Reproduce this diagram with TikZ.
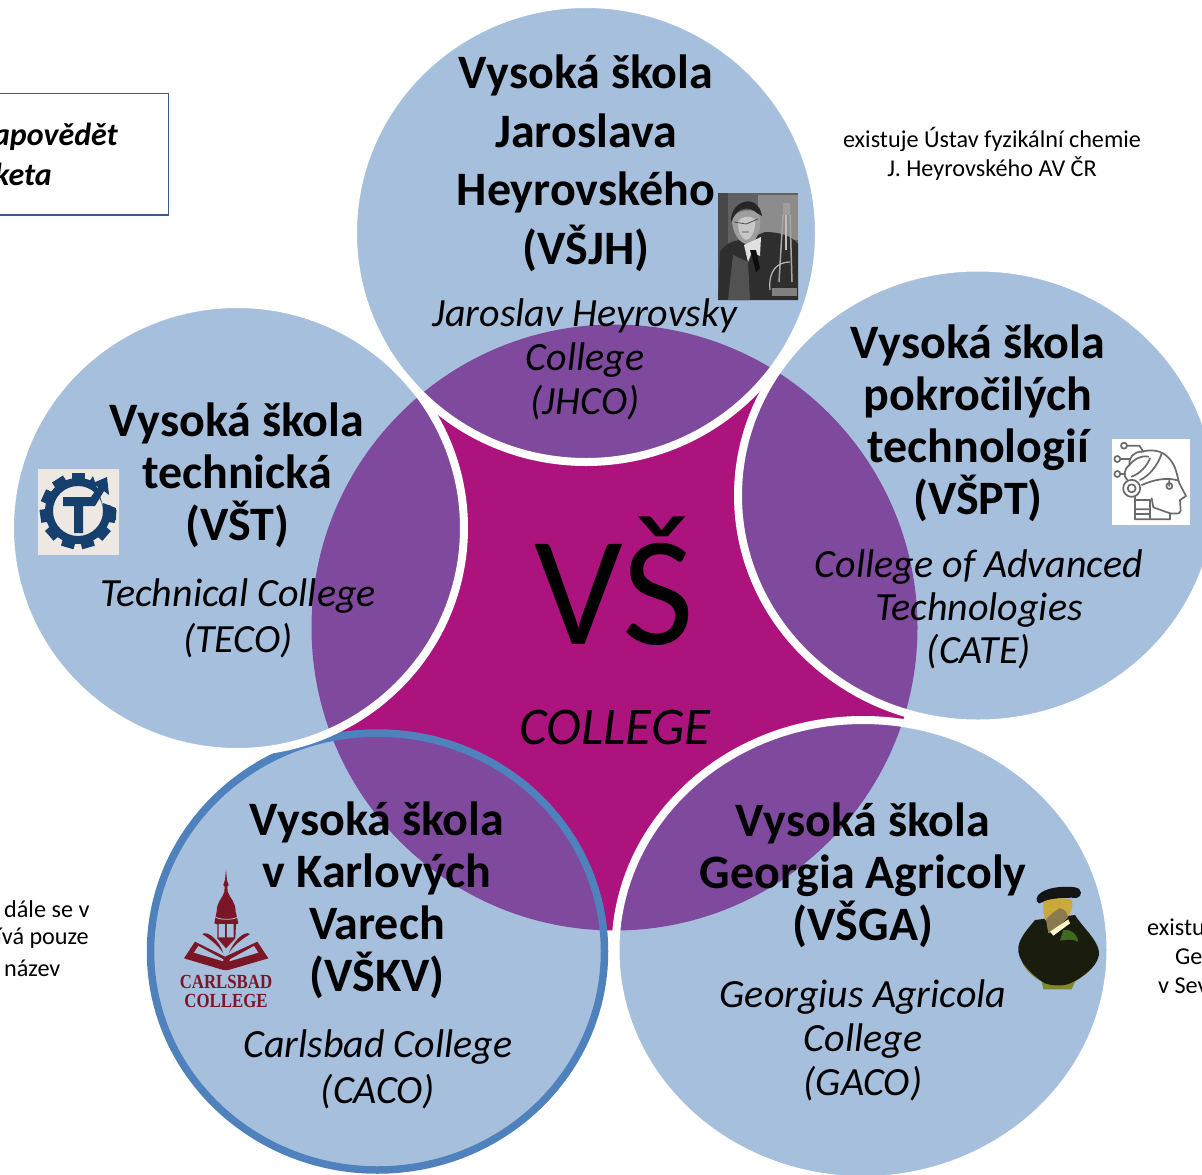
\documentclass[tikz,border=0pt]{standalone}
\usepackage{fontspec}
\setmainfont{Carlito}
\newfontfamily\logofont{Liberation Serif}
\definecolor{satblue}{HTML}{A6BFDD}
\definecolor{overlapc}{HTML}{7F4A9E}
\definecolor{corec}{HTML}{AD137D}
\definecolor{ringblue}{HTML}{4F81BD}
\definecolor{boxline}{HTML}{385D8A}
\definecolor{gearnavy}{HTML}{173F6E}
\definecolor{gearbg}{HTML}{EDE9E2}
\definecolor{logored}{HTML}{7B1626}
\definecolor{iconline}{HTML}{6A6A6A}
\definecolor{furdark}{HTML}{1A1D0E}
\definecolor{furgreen}{HTML}{3F6B20}
\definecolor{furedge}{HTML}{7F8A2A}
\definecolor{facey}{HTML}{C9A93C}
\definecolor{beardc}{HTML}{8A7A50}
\tikzset{
  headtext/.style={font=\fontsize{48}{52}\selectfont\bfseries,align=center,inner sep=0pt,text=black},
  subtext/.style={font=\fontsize{40}{44}\selectfont\itshape,align=center,inner sep=0pt,text=black},
  notetext/.style={font=\fontsize{24.2}{29}\selectfont,align=center,inner sep=0pt,text=black},
  boxtext/.style={font=\fontsize{32}{40}\selectfont\bfseries\itshape,anchor=east,inner sep=0pt,text=black},
  whitering/.style={draw=white,line width=8pt},
  iconstroke/.style={draw=iconline,line width=1.7pt,line cap=round,line join=round},
}
\def\coreshape{(614.5,627.5) circle (303pt)}
\begin{document}
\begin{tikzpicture}[x=1pt,y=-1pt]
\useasboundingbox (0,0) rectangle (1202,1175);
\fill[white] (0,0) rectangle (1202,1175);
% core
\fill[corec] \coreshape;
% satellites
\fill[satblue] (586,233) ellipse (233pt and 229pt);
\fill[satblue] (237,528) ellipse (227pt and 224pt);
\fill[satblue] (978,495.5) ellipse (240pt and 228pt);
\fill[satblue] (377.5,951.5) ellipse (227pt and 218.5pt);
\fill[satblue] (863,950) ellipse (247.5pt and 230pt);
% overlaps
\begin{scope}\clip \coreshape;
\fill[overlapc] (586,233) ellipse (233pt and 229pt);
\fill[overlapc] (237,528) ellipse (227pt and 224pt);
\fill[overlapc] (978,495.5) ellipse (240pt and 228pt);
\fill[overlapc] (377.5,951.5) ellipse (227pt and 218.5pt);
\fill[overlapc] (863,950) ellipse (247.5pt and 230pt);
\end{scope}
% rings
\draw[draw=ringblue,line width=7.5pt] (377.5,951.5) ellipse (227pt and 218.5pt);
\draw[whitering] (586,233) ellipse (233pt and 229pt);
\draw[whitering] (237,528) ellipse (227pt and 224pt);
\draw[whitering] (978,495.5) ellipse (240pt and 228pt);
\draw[whitering] (863,950) ellipse (247.5pt and 230pt);

% top-left box
\draw[boxline,line width=1.2pt] (-10,93.5) -- (168.7,93.5) -- (168.7,215) -- (-10,215);
\node[boxtext] (boxa) at (118,136.5) {apovědět};
\node[boxtext] (boxb) at (52,174.5) {keta};

% notes
\node[notetext] (noteheyr) at (992,154) {existuje Ústav fyzikální chemie\\J. Heyrovského AV ČR};
\node[notetext,anchor=west] (notela) at (4,909.5) {dále se v};
\node[notetext,anchor=east] (notelb) at (89,938.5) {ívá pouze};
\node[notetext,anchor=west] (notelc) at (4,968) {název};
\node[notetext,anchor=west] (notera) at (1147,927.5) {existu};
\node[notetext,anchor=west] (noterb) at (1175,956.5) {Ge};
\node[notetext,anchor=west] (noterc) at (1158,985.5) {v Sev};

% main texts
\node[font=\fontsize{156}{156}\selectfont,inner sep=0pt] (vs) at (614,581) {VŠ};
\node[font=\fontsize{53}{56}\selectfont\itshape,inner sep=0pt] (coll) at (615,727) {COLLEGE};

\node[headtext,font=\fontsize{48}{58.5}\selectfont\bfseries] (t1) at (586,163.5) {Vysoká škola\\Jaroslava\\Heyrovského\\(VŠJH)};
\node[subtext] (s1) at (585,359) {Jaroslav Heyrovsky\\College\\(JHCO)};
\node[headtext] (t2) at (237,475.5) {Vysoká škola\\technická\\(VŠT)};
\node[subtext,font=\fontsize{40}{46}\selectfont\itshape] (s2) at (238,618) {Technical College\\(TECO)};
\node[headtext] (t3) at (978,423) {Vysoká škola\\pokročilých\\technologií\\(VŠPT)};
\node[subtext,font=\fontsize{40}{43}\selectfont\itshape] (s3) at (979,609) {College of Advanced\\Technologies\\(CATE)};
\node[headtext] (t4) at (377,900) {Vysoká škola\\v Karlových\\Varech\\(VŠKV)};
\node[subtext,font=\fontsize{40}{46}\selectfont\itshape] (s4) at (378,1069) {Carlsbad College\\(CACO)};
\node[headtext] (t5) at (863,875.5) {Vysoká škola\\Georgia Agricoly\\(VŠGA)};
\node[subtext] (s5) at (863,1040.5) {Georgius Agricola\\College\\(GACO)};

% portrait of Heyrovsky
\begin{scope}
\clip (718,193) rectangle (798,300);
\fill[black!62] (718,193) rectangle (798,300);
\fill[black!72] (718,193) rectangle (728,300);
\fill[black!45] (758,195) rectangle (798,240);
\fill[black!82] (718,300) -- (720,252) .. controls (728,240) and (738,240) .. (745,240) -- (765,232) .. controls (780,232) and (792,236) .. (798,244) -- (798,300) -- cycle;
\fill[black!68] (733,255) -- (748,262) -- (750,300) -- (728,300) -- cycle;
\fill[black!38] (732,222) .. controls (733,208) and (758,206) .. (760,218) .. controls (762,232) and (754,246) .. (746,244) .. controls (738,242) and (733,232) .. cycle;
\fill[black!22] (738,222) .. controls (740,216) and (752,215) .. (755,220) .. controls (756,232) and (750,240) .. (746,240) .. controls (741,238) and (738,232) .. cycle;
\fill[black!85] (731,222) .. controls (730,200) and (758,192) .. (762,216) -- (757,213) .. controls (750,206) and (738,207) .. (733,218) -- cycle;
\draw[black!70,line width=.8pt] (734,222) -- (746,224) -- (758,219) (742,232) -- (749,232);
\fill[black!12] (744,245) -- (761,237) -- (760,256) -- (752,252) -- (748,262) -- cycle;
\fill[black!95] (750,250) -- (756,250) -- (760,268) -- (756,272) -- cycle;
\draw[black!25,line width=1.5pt] (786,205) -- (786,250);
\draw[black!35,line width=1.5pt] (783,215) -- (779,282) (790,215) -- (792,282);
\fill[black!38] (783,203) rectangle (790,215);
\draw[black!28,line width=1.2pt] (770,290) .. controls (768,270) and (778,262) .. (790,262);
\fill[black!50] (772,288) rectangle (797,296);
\end{scope}

% gear icon
\fill[gearbg] (38,469) rectangle (119,555);
\begin{scope}[shift={(78,511)}]
\foreach \a in {0,32.7,...,340}{
  \fill[gearnavy,rotate=\a] (-6.5,-38) rectangle (6.5,-28);
}
\fill[gearnavy,even odd rule] (0,0) circle (33pt) (0,0) circle (25pt);
\end{scope}
\fill[gearbg] (91,470) -- (119,470) -- (119,505) -- (103,505) -- cycle;
\fill[gearnavy] (63,497) -- (91,497) -- (98,487) -- (93,483) -- (107,477) -- (109,495) -- (104,491) -- (95,506) -- (83,506) -- (83,533) -- (74,533) -- (74,506) -- (63,506) -- cycle;
\fill[gearnavy] (103,503) -- (116,508) -- (116,520) -- (106,520) -- cycle;

% head icon
\fill[white] (1112,439) rectangle (1190,525);
\begin{scope}[shift={(1090,420)},x=0.3333pt,y=-0.3333pt]
\draw[iconstroke] (102,77) circle (3pt) (82,117) circle (3pt) (82,162) circle (3pt);
\draw[iconstroke] (111,77) -- (148,77) -- (160,95) (92,117) -- (118,117) (92,162) -- (105,162);
\draw[iconstroke] (155,95) .. controls (195,85) and (225,95) .. (245,125) .. controls (262,150) and (262,175) .. (268,190) -- (288,228) -- (270,240) -- (272,272) .. controls (270,285) and (255,280) .. (240,280) -- (240,298) -- (135,298) -- (135,232);
\draw[iconstroke] (155,95) .. controls (130,95) and (115,115) .. (118,135) .. controls (100,150) and (100,170) .. (112,180) (118,135) .. controls (130,120) and (150,105) .. (175,110) (125,170) .. controls (150,160) and (170,140) .. (180,115) (150,180) .. controls (175,170) and (205,135) .. (215,100) (155,195) .. controls (190,180) and (230,170) .. (265,182) (238,182) -- (238,198);
\draw[iconstroke] (238,198) circle (3pt);
\draw[iconstroke] (125,205) circle (8.5pt) (125,205) circle (4pt);
\draw[iconstroke] (135,240) -- (180,240) -- (180,298) (135,268) -- (178,268) (135,282) -- (178,282) (185,235) -- (190,262) -- (240,280);
\end{scope}

% Carlsbad logo
\begin{scope}[shift={(170,860)},x=0.3333pt,y=-0.3333pt]
\fill[logored] (168,28) -- (171,60) -- (176,75) -- (172,80) -- (173,95) .. controls (180,115) and (197,125) .. (197,155) -- (205,190) -- (198,193) -- (196,235) -- (168,265) -- (142,235) -- (142,193) -- (133,190) -- (140,155) .. controls (140,125) and (158,115) .. (163,95) -- (164,80) -- (160,75) -- (165,60) -- cycle;
\fill[satblue] (146,192) rectangle (165,232) (171,192) rectangle (191,232);
\draw[satblue,line width=0.8pt] (137,172) .. controls (155,180) and (185,180) .. (202,172);
\fill[logored] (42,295) -- (75,245) -- (165,290) -- (262,245) -- (295,295) -- (175,330) -- (160,330) -- cycle;
\fill[satblue] (72,278) -- (85,258) -- (160,298) -- (160,304) -- cycle (180,298) -- (252,258) -- (265,278) -- (178,304) -- cycle;
\fill[logored] (97,222) .. controls (115,210) and (150,245) .. (160,280) .. controls (140,250) and (115,235) .. cycle;
\fill[logored] (240,222) .. controls (222,210) and (190,245) .. (176,280) .. controls (195,250) and (222,235) .. cycle;
\end{scope}
\node[font=\fontsize{20}{19}\selectfont\logofont\bfseries,text=logored,align=center,inner sep=0pt,xscale=0.84] (carl) at (226,991) {CARLSBAD\\COLLEGE};

% Agricola portrait
\begin{scope}[shift={(1000,870)},x=0.3333pt,y=-0.3333pt]
\fill[furedge] (58,240) .. controls (60,280) and (80,310) .. (125,335) -- (130,358) -- (215,358) -- (225,335) .. controls (265,310) and (290,285) .. (297,250) -- cycle;
\fill[furdark] (105,150) .. controls (85,175) and (50,210) .. (55,245) .. controls (60,285) and (110,325) .. (135,340) .. controls (165,350) and (195,348) .. (215,338) .. controls (260,315) and (300,280) .. (297,245) .. controls (290,205) and (250,175) .. (225,135) -- cycle;
\fill[furgreen] (190,180) .. controls (210,175) and (230,190) .. (235,215) .. controls (215,205) and (195,210) .. (180,212) -- cycle;
\fill[black!92] (110,85) .. controls (115,60) and (170,45) .. (225,52) .. controls (248,55) and (248,80) .. (230,84) .. controls (190,80) and (140,90) .. (118,100) .. controls (110,100) and (110,92) .. cycle;
\fill[facey] (130,95) .. controls (150,85) and (200,80) .. (217,92) .. controls (220,120) and (205,150) .. (170,165) -- (135,150) -- (130,125) -- cycle;
\fill[beardc] (138,150) .. controls (150,130) and (165,125) .. (178,115) .. controls (195,115) and (200,130) .. (205,140) .. controls (190,160) and (165,180) .. (145,190) -- cycle;
\fill[white!80!yellow] (150,185) -- (205,148) -- (210,160) -- (160,197) -- cycle;
\end{scope}
\end{tikzpicture}
\end{document}
